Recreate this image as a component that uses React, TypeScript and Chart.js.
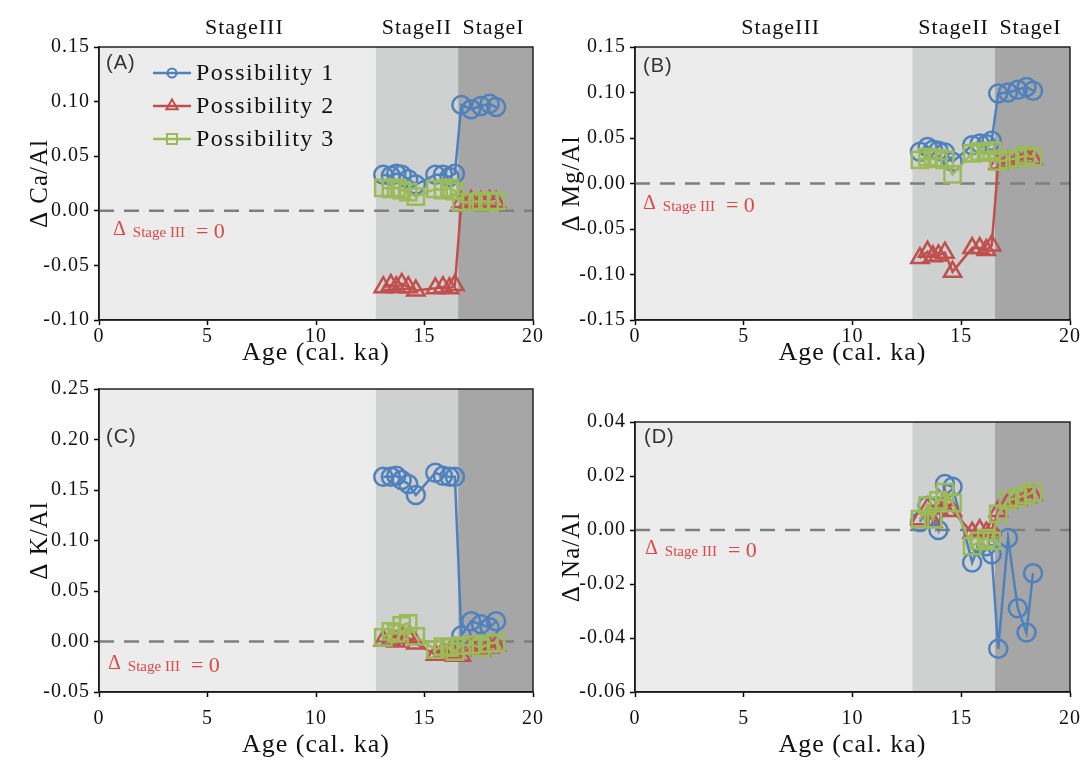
import React, { useEffect, useRef } from 'react';
import { Chart, registerables } from 'chart.js';

Chart.register(...registerables);

// ---------- data ----------
const ages = [13.1, 13.45, 13.7, 13.95, 14.25, 14.6, 15.5, 15.85, 16.15, 16.4, 16.7, 17.15, 17.6, 18.0, 18.3];
const stageBounds = [12.75, 16.55];
const stageNames = ['StageIII', 'StageII', 'StageI'];
const seriesNames = ['Possibility 1', 'Possibility 2', 'Possibility 3'];
const xTickValues = [0, 5, 10, 15, 20];

const caP1 = [0.033, 0.032, 0.034, 0.033, 0.029, 0.024, 0.033, 0.033, 0.031, 0.034, 0.097, 0.093, 0.096, 0.098, 0.095];
const caP2 = [-0.070, -0.068, -0.070, -0.067, -0.070, -0.073, -0.071, -0.070, -0.071, -0.068, 0.008, 0.009, 0.008, 0.009, 0.008];
const caP3 = [0.021, 0.020, 0.021, 0.019, 0.017, 0.013, 0.020, 0.019, 0.021, 0.018, 0.008, 0.008, 0.009, 0.008, 0.009];

const mgP1 = [0.035, 0.040, 0.037, 0.036, 0.034, 0.024, 0.042, 0.044, 0.043, 0.047, 0.099, 0.100, 0.103, 0.106, 0.102];
const mgP2 = [-0.082, -0.075, -0.080, -0.079, -0.076, -0.097, -0.071, -0.071, -0.073, -0.068, 0.022, 0.024, 0.026, 0.028, 0.027];
const mgP3 = [0.026, 0.029, 0.027, 0.028, 0.026, 0.010, 0.033, 0.035, 0.034, 0.036, 0.024, 0.026, 0.028, 0.031, 0.029];

const kP1 = [0.163, 0.163, 0.164, 0.160, 0.156, 0.145, 0.167, 0.164, 0.163, 0.163, 0.006, 0.020, 0.017, 0.014, 0.020];
const kP2 = [0.001, 0.002, 0.000, 0.005, 0.004, -0.002, -0.013, -0.010, -0.011, -0.014, -0.014, -0.005, -0.009, -0.006, -0.004];
const kP3 = [0.004, 0.010, 0.008, 0.016, 0.018, 0.005, -0.008, -0.005, -0.006, -0.010, -0.004, -0.003, -0.006, -0.002, -0.001];

const naP1 = [0.003, 0.009, 0.005, 0.000, 0.017, 0.016, -0.012, -0.005, -0.006, -0.009, -0.044, -0.003, -0.029, -0.038, -0.016];
const naP2 = [0.004, 0.008, 0.003, 0.008, 0.011, 0.007, -0.001, 0.000, -0.001, 0.000, 0.007, 0.010, 0.011, 0.012, 0.013];
const naP3 = [0.004, 0.009, 0.004, 0.011, 0.014, 0.010, -0.006, -0.004, -0.003, -0.004, 0.006, 0.011, 0.012, 0.013, 0.014];

// ---------- styles ----------
const COLORS = ['#4f81bd', '#c0504d', '#9bbb59'];
const MARKERS = ['circle', 'triangle', 'rect'];
const MARKER_R = [9, 10, 11.5];
const STAGE_FILL = ['#ececec', '#cfd0d0', '#a6a6a6'];
const STAGE_LABEL_SHIFT = [7, 0, -2];
const SERIF = '"Liberation Serif", "Times New Roman", serif';
const SANS = '"Liberation Sans", Arial, sans-serif';
const ZERO_RED = '#dd4747';

type PanelCfg = {
  key: string;
  left: number; top: number; w: number; h: number;
  padTop: number; padRight: number; yAxisW: number; xAxisH: number;
  yMin: number; yMax: number; yStep: number;
  yTitle: string; yTitlePad: number; xTitlePad: number; xTickPad: number;
  series: number[][];
  label: string; labelX: number; labelY: number;
  zeroX: number; zeroY: number;
  legend: boolean; stages: boolean;
};

const panels: PanelCfg[] = [
  {
    key: 'A', left: 0, top: 0, w: 555, h: 375, padTop: 47, padRight: 22, yAxisW: 99, xAxisH: 55,
    yMin: -0.10, yMax: 0.15, yStep: 0.05, yTitle: 'Δ Ca/Al', yTitlePad: 25, xTitlePad: 6, xTickPad: 2,
    series: [caP1, caP2, caP3], label: '(A)', labelX: 106, labelY: 63, zeroX: 113, zeroY: 235,
    legend: true, stages: true,
  },
  {
    key: 'B', left: 555, top: 0, w: 529, h: 375, padTop: 47, padRight: 14, yAxisW: 80, xAxisH: 55,
    yMin: -0.15, yMax: 0.15, yStep: 0.05, yTitle: 'Δ Mg/Al', yTitlePad: 2, xTitlePad: 6, xTickPad: 2,
    series: [mgP1, mgP2, mgP3], label: '(B)', labelX: 88, labelY: 66, zeroX: 88, zeroY: 209,
    legend: false, stages: true,
  },
  {
    key: 'C', left: 0, top: 375, w: 555, h: 387, padTop: 13, padRight: 22, yAxisW: 99, xAxisH: 70,
    yMin: -0.05, yMax: 0.25, yStep: 0.05, yTitle: 'Δ K/Al', yTitlePad: 25, xTitlePad: 1, xTickPad: 12,
    series: [kP1, kP2, kP3], label: '(C)', labelX: 106, labelY: 62, zeroX: 108, zeroY: 294,
    legend: false, stages: false,
  },
  {
    key: 'D', left: 555, top: 375, w: 529, h: 387, padTop: 47, padRight: 14, yAxisW: 80, xAxisH: 70,
    yMin: -0.06, yMax: 0.04, yStep: 0.02, yTitle: 'Δ Na/Al', yTitlePad: 2, xTitlePad: 1, xTickPad: 12,
    series: [naP1, naP2, naP3], label: '(D)', labelX: 89, labelY: 62, zeroX: 90, zeroY: 179,
    legend: false, stages: false,
  },
];

function fmt2(v: any) {
  const n = Number(v);
  return (Math.abs(n) < 1e-9 ? 0 : n).toFixed(2);
}

function drawMarker(ctx: CanvasRenderingContext2D, style: string, x: number, y: number, r: number) {
  ctx.beginPath();
  if (style === 'circle') {
    ctx.arc(x, y, r, 0, Math.PI * 2);
  } else if (style === 'triangle') {
    ctx.moveTo(x, y - r);
    ctx.lineTo(x + r * 0.866, y + r * 0.5);
    ctx.lineTo(x - r * 0.866, y + r * 0.5);
    ctx.closePath();
  } else {
    ctx.rect(x - r, y - r, 2 * r, 2 * r);
  }
  ctx.stroke();
}

function makePlugin(cfg: PanelCfg) {
  return {
    id: 'panelDecor' + cfg.key,
    beforeDraw(chart: any) {
      const { ctx, chartArea } = chart;
      (ctx as any).letterSpacing = '1px';
      const xs = chart.scales.x;
      const b = [xs.min, ...stageBounds, xs.max];
      ctx.save();
      for (let i = 0; i < 3; i++) {
        const x0 = xs.getPixelForValue(b[i]);
        const x1 = xs.getPixelForValue(b[i + 1]);
        ctx.fillStyle = STAGE_FILL[i];
        ctx.fillRect(x0, chartArea.top, x1 - x0, chartArea.bottom - chartArea.top);
      }
      ctx.restore();
    },
    beforeDatasetsDraw(chart: any) {
      const { ctx, chartArea } = chart;
      const y0 = chart.scales.y.getPixelForValue(0);
      ctx.save();
      ctx.strokeStyle = '#7f7f7f';
      ctx.lineWidth = 2.5;
      ctx.setLineDash([15, 10]);
      ctx.beginPath();
      ctx.moveTo(chartArea.left, y0);
      ctx.lineTo(chartArea.right, y0);
      ctx.stroke();
      ctx.restore();
    },
    afterDraw(chart: any) {
      const { ctx, chartArea } = chart;
      const xs = chart.scales.x;
      ctx.save();
      // box
      ctx.strokeStyle = '#222';
      ctx.lineWidth = 1.5;
      ctx.strokeRect(chartArea.left, chartArea.top, chartArea.right - chartArea.left, chartArea.bottom - chartArea.top);

      // panel label
      (ctx as any).letterSpacing = '1px';
      ctx.fillStyle = '#333';
      ctx.font = `20px ${SANS}`;
      ctx.textBaseline = 'middle';
      ctx.textAlign = 'left';
      ctx.fillText(cfg.label, cfg.labelX, cfg.labelY);

      // delta stage III = 0
      (ctx as any).letterSpacing = '0px';
      ctx.fillStyle = ZERO_RED;
      ctx.textBaseline = 'alphabetic';
      let x = cfg.zeroX;
      ctx.font = `20px ${SERIF}`;
      ctx.fillText('Δ', x, cfg.zeroY);
      x += ctx.measureText('Δ').width + 7;
      ctx.font = `15px ${SERIF}`;
      ctx.fillText('Stage III', x, cfg.zeroY + 2);
      x += ctx.measureText('Stage III').width + 11;
      ctx.font = `22px ${SERIF}`;
      ctx.fillText('= 0', x, cfg.zeroY + 3);

      // stage names
      if (cfg.stages) {
        (ctx as any).letterSpacing = '1px';
        const b = [xs.min, ...stageBounds, xs.max];
        ctx.fillStyle = '#111';
        ctx.font = `22px ${SERIF}`;
        ctx.textAlign = 'center';
        ctx.textBaseline = 'middle';
        for (let i = 0; i < 3; i++) {
          const cx = (xs.getPixelForValue(b[i]) + xs.getPixelForValue(b[i + 1])) / 2 + STAGE_LABEL_SHIFT[i];
          ctx.fillText(stageNames[i], cx, chartArea.top - 19);
        }
      }

      // legend
      if (cfg.legend) {
        for (let i = 0; i < 3; i++) {
          const y = 73 + 33 * i;
          ctx.strokeStyle = COLORS[i];
          ctx.lineWidth = 2.5;
          ctx.beginPath();
          ctx.moveTo(153, y);
          ctx.lineTo(191, y);
          ctx.stroke();
          ctx.lineWidth = 2;
          drawMarker(ctx, MARKERS[i], 172, y, i === 0 ? 4.5 : i === 1 ? 6.5 : 5);
          (ctx as any).letterSpacing = '1.5px';
          ctx.fillStyle = '#111';
          ctx.font = `24px ${SERIF}`;
          ctx.textAlign = 'left';
          ctx.textBaseline = 'middle';
          ctx.fillText(seriesNames[i], 196, y + 1);
        }
      }
      ctx.restore();
      (ctx as any).letterSpacing = '0px';
    },
  };
}

function Panel({ cfg }: { cfg: PanelCfg }) {
  const ref = useRef<HTMLCanvasElement>(null);
  useEffect(() => {
    const canvas = ref.current as HTMLCanvasElement;
    const c2d = canvas.getContext('2d') as any;
    if (c2d) c2d.letterSpacing = '0px';
    const datasets = cfg.series.map((vals, i) => ({
      label: seriesNames[i],
      data: ages.map((a, j) => ({ x: a, y: vals[j] })),
      borderColor: COLORS[i],
      borderWidth: 2.5,
      pointStyle: MARKERS[i],
      pointRadius: MARKER_R[i],
      pointBorderWidth: 2.5,
      pointBorderColor: COLORS[i],
      pointBackgroundColor: 'rgba(0,0,0,0)',
      tension: 0,
      fill: false,
      order: 3 - i,
    }));
    const chart = new Chart(canvas, {
      type: 'line',
      data: { datasets },
      options: {
        responsive: false,
        animation: false,
        events: [],
        layout: { padding: { top: cfg.padTop, right: cfg.padRight, left: 0, bottom: 0 } },
        plugins: { legend: { display: false }, tooltip: { enabled: false }, title: { display: false } },
        scales: {
          x: {
            type: 'linear',
            min: 0,
            max: 20,
            afterFit: (s: any) => {
              s.height = cfg.xAxisH;
              s.paddingLeft = 0;
              s.paddingRight = 0;
            },
            afterBuildTicks: (s: any) => { s.ticks = xTickValues.map((v) => ({ value: v })); },
            ticks: {
              color: '#111',
              padding: cfg.xTickPad,
              maxRotation: 0,
              autoSkip: false,
              font: { family: SERIF, size: 20, lineHeight: 1 },
              callback: (v: any) => String(v),
            },
            grid: { drawOnChartArea: false, drawTicks: true, tickLength: 5, tickColor: '#000', tickWidth: 1.5 },
            border: { display: true, color: '#000', width: 1.5 },
            title: {
              display: true,
              text: 'Age (cal. ka)',
              color: '#111',
              font: { family: SERIF, size: 26, lineHeight: 1.2 },
              padding: { top: 0, bottom: cfg.xTitlePad },
            },
          },
          y: {
            type: 'linear',
            min: cfg.yMin,
            max: cfg.yMax,
            afterFit: (s: any) => {
              s.width = cfg.yAxisW;
              s.paddingTop = 0;
              s.paddingBottom = 0;
            },
            ticks: {
              stepSize: cfg.yStep,
              color: '#111',
              padding: 4,
              font: { family: SERIF, size: 20 },
              callback: (v: any) => fmt2(v),
            },
            grid: { drawOnChartArea: false, drawTicks: true, tickLength: 5, tickColor: '#000', tickWidth: 1.5 },
            border: { display: true, color: '#000', width: 1.5 },
            title: {
              display: true,
              text: cfg.yTitle,
              color: '#111',
              font: { family: SERIF, size: 25, lineHeight: 1.2 },
              padding: { top: cfg.yTitlePad, bottom: 0 },
            },
          },
        },
      },
      plugins: [makePlugin(cfg)],
    } as any);
    return () => chart.destroy();
  }, [cfg]);
  return (
    <canvas
      ref={ref}
      width={cfg.w}
      height={cfg.h}
      style={{ position: 'absolute', left: cfg.left, top: cfg.top, width: cfg.w, height: cfg.h }}
    />
  );
}

export default function App() {
  return (
    <div style={{ position: 'absolute', left: 0, top: 0, width: 1084, height: 762, background: '#fff', overflow: 'hidden' }}>
      {panels.map((p) => (
        <Panel key={p.key} cfg={p} />
      ))}
    </div>
  );
}
